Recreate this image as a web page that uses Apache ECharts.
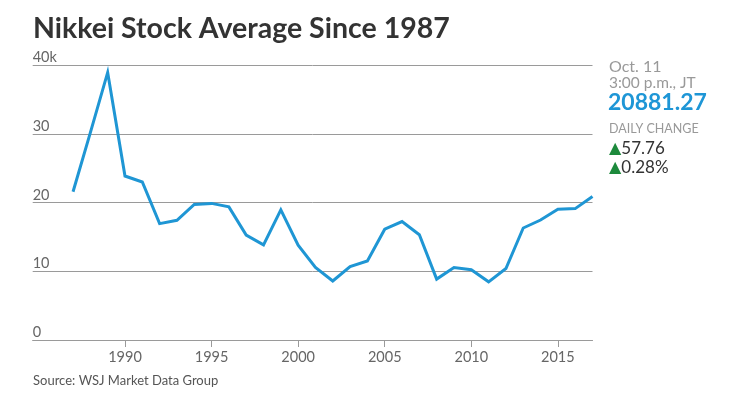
<!DOCTYPE html>
<html>
<head>
<meta charset="utf-8">
<script src="https://cdn.jsdelivr.net/npm/echarts@6/dist/echarts.min.js"></script>
<style>
html,body{margin:0;padding:0;background:#fff;}
#chart{width:738px;height:414px;}
</style>
</head>
<body>
<div id="chart"></div>
<script>
var years = [1987,1988,1989,1990,1991,1992,1993,1994,1995,1996,1997,1998,1999,2000,2001,2002,2003,2004,2005,2006,2007,2008,2009,2010,2011,2012,2013,2014,2015,2016,2017];
var closes = [21560,30160,38920,23850,22980,16930,17420,19720,19870,19360,15260,13840,18930,13790,10540,8580,10680,11490,16110,17230,15310,8860,10550,10230,8460,10400,16290,17450,19030,19110,20881];
var xTickLabels = [1990,1995,2000,2005,2010,2015];
var yTicks = [0,10000,20000,30000,40000];

var FONT = 'Lato, "Open Sans", sans-serif';
var chart = echarts.init(document.getElementById('chart'));
var data = years.map(function(y,i){return [y, closes[i]];});

chart.setOption({
  animation:false,
  grid:{left:32.7, right:145.5, top:65, bottom:74, containLabel:false},
  xAxis:{
    type:'value', min:1984.67, max:2017,
    axisLine:{show:true, lineStyle:{color:'#9a9a9a', width:1}},
    axisTick:{show:true, length:7, inside:false, customValues:xTickLabels, lineStyle:{color:'#9a9a9a'}},
    axisLabel:{customValues:xTickLabels, color:'#666', fontSize:14.5, fontFamily:FONT, margin:10, formatter:function(v){return String(v);}},
    splitLine:{show:false}
  },
  yAxis:{
    type:'value', min:0, max:40000, interval:10000,
    axisLine:{show:false}, axisTick:{show:false},
    axisLabel:{inside:true, margin:0, align:'left', verticalAlign:'bottom', color:'#666', fontSize:14.5, fontFamily:FONT,
      formatter:function(v){return v===40000 ? '40k' : String(v/1000);}},
    splitLine:{show:true, lineStyle:{color:'#9a9a9a', width:1}}
  },
  series:[{
    type:'line', data:data, symbol:'none', smooth:false,
    lineStyle:{color:'#1f96d4', width:3, join:'miter'}
  }],
  graphic:[
    {type:'text', left:33, top:14, style:{text:'Nikkei Stock Average Since 1987', font:'bold 28.5px '+FONT, fill:'#333'}},
    {type:'text', left:609, top:59, style:{text:'Oct. 11', font:'16px '+FONT, fill:'#999'}},
    {type:'text', left:609, top:75, style:{text:'3:00 p.m., JT', font:'15.5px '+FONT, fill:'#999'}},
    {type:'text', left:608, top:91, style:{text:'20881.27', font:'bold 23px '+FONT, fill:'#1e96d6'}},
    {type:'text', left:609, top:122, style:{text:'DAILY CHANGE', font:'12.5px '+FONT, fill:'#999'}},
    {type:'text', left:609, top:140, style:{text:'{t|▲}{v|57.76}', rich:{t:{fill:'#1d8a3c', font:'16px DejaVu Sans'}, v:{fill:'#333', font:'17px '+FONT}}}},
    {type:'text', left:609, top:159, style:{text:'{t|▲}{v|0.28%}', rich:{t:{fill:'#1d8a3c', font:'16px DejaVu Sans'}, v:{fill:'#333', font:'17px '+FONT}}}},
    {type:'text', left:33, top:374, style:{text:'Source: WSJ Market Data Group', font:'13px '+FONT, fill:'#555'}}
  ]
});
</script>
</body>
</html>
